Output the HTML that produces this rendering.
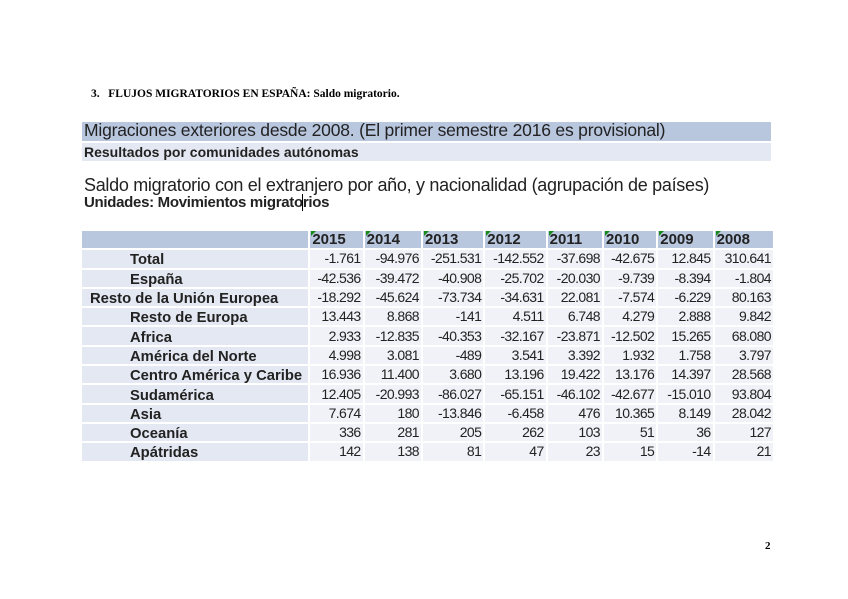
<!DOCTYPE html>
<html><head><meta charset="utf-8"><style>
body{margin:0;width:848px;height:599px;background:#fff;position:relative;overflow:hidden;font-family:"Liberation Sans",sans-serif;}
.a{position:absolute;}
table{position:absolute;left:80px;top:229px;border-collapse:separate;border-spacing:2px;font-size:14px;color:#222;table-layout:fixed;width:695px;}
td{height:17.3px;padding:0 2px;line-height:17px;overflow:hidden;white-space:nowrap;vertical-align:middle;}
td.n{text-align:right;background:#f0f2f7;letter-spacing:-0.6px;}
td.l{background:#e4e8f2;font-weight:bold;padding-left:48px;font-size:14.8px;line-height:17px;}
td.l span{position:relative;top:2px;}
tr.h td{background:#b8c6de;font-weight:bold;font-size:15px;text-align:left;position:relative;}
tr.h td.y:before{content:"";position:absolute;left:1px;top:0;border-top:5px solid #1a8a1a;border-right:5px solid transparent;}
</style></head><body>
<div class="a" style="left:91px;top:88px;font-family:'Liberation Serif',serif;font-weight:bold;font-size:11.5px;">3.&nbsp;&nbsp; FLUJOS MIGRATORIOS EN ESPAÑA: Saldo migratorio.</div>
<div class="a" style="left:82px;top:122px;width:689px;height:19px;background:#b8c6de;"></div>
<div class="a" style="left:84px;top:120px;font-size:17.5px;color:#222;letter-spacing:-0.2px;">Migraciones exteriores desde 2008. (El primer semestre 2016 es provisional)</div>
<div class="a" style="left:82px;top:143px;width:689px;height:18px;background:#e4e8f2;"></div>
<div class="a" style="left:84px;top:144px;font-size:14px;font-weight:bold;color:#222;">Resultados por comunidades autónomas</div>
<div class="a" style="left:84px;top:175px;font-size:18px;color:#222;letter-spacing:-0.3px;">Saldo migratorio con el extranjero por año, y nacionalidad (agrupación de países)</div>
<div class="a" style="left:84px;top:194px;font-size:15px;font-weight:bold;color:#222;letter-spacing:-0.3px;">Unidades: Movimientos migrato<span style="border-left:1px solid #000;margin-left:-1px"></span>rios</div>
<table>
<colgroup><col style="width:225px"><col style="width:52px"><col style="width:56px"><col style="width:60px"><col style="width:60px"><col style="width:54px"><col style="width:52px"><col style="width:54px"><col style="width:58px"></colgroup>
<tr class="h"><td></td><td class="y">2015</td><td class="y">2014</td><td class="y">2013</td><td class="y">2012</td><td class="y">2011</td><td class="y">2010</td><td class="y">2009</td><td class="y">2008</td></tr>
<tr><td class="l"><span>Total</span></td><td class="n">-1.761</td><td class="n">-94.976</td><td class="n">-251.531</td><td class="n">-142.552</td><td class="n">-37.698</td><td class="n">-42.675</td><td class="n">12.845</td><td class="n">310.641</td></tr>
<tr><td class="l"><span>España</span></td><td class="n">-42.536</td><td class="n">-39.472</td><td class="n">-40.908</td><td class="n">-25.702</td><td class="n">-20.030</td><td class="n">-9.739</td><td class="n">-8.394</td><td class="n">-1.804</td></tr>
<tr><td class="l" style="padding-left:8px"><span>Resto de la Unión Europea</span></td><td class="n">-18.292</td><td class="n">-45.624</td><td class="n">-73.734</td><td class="n">-34.631</td><td class="n">22.081</td><td class="n">-7.574</td><td class="n">-6.229</td><td class="n">80.163</td></tr>
<tr><td class="l"><span>Resto de Europa</span></td><td class="n">13.443</td><td class="n">8.868</td><td class="n">-141</td><td class="n">4.511</td><td class="n">6.748</td><td class="n">4.279</td><td class="n">2.888</td><td class="n">9.842</td></tr>
<tr><td class="l"><span>Africa</span></td><td class="n">2.933</td><td class="n">-12.835</td><td class="n">-40.353</td><td class="n">-32.167</td><td class="n">-23.871</td><td class="n">-12.502</td><td class="n">15.265</td><td class="n">68.080</td></tr>
<tr><td class="l"><span>América del Norte</span></td><td class="n">4.998</td><td class="n">3.081</td><td class="n">-489</td><td class="n">3.541</td><td class="n">3.392</td><td class="n">1.932</td><td class="n">1.758</td><td class="n">3.797</td></tr>
<tr><td class="l"><span>Centro América y Caribe</span></td><td class="n">16.936</td><td class="n">11.400</td><td class="n">3.680</td><td class="n">13.196</td><td class="n">19.422</td><td class="n">13.176</td><td class="n">14.397</td><td class="n">28.568</td></tr>
<tr><td class="l"><span>Sudamérica</span></td><td class="n">12.405</td><td class="n">-20.993</td><td class="n">-86.027</td><td class="n">-65.151</td><td class="n">-46.102</td><td class="n">-42.677</td><td class="n">-15.010</td><td class="n">93.804</td></tr>
<tr><td class="l"><span>Asia</span></td><td class="n">7.674</td><td class="n">180</td><td class="n">-13.846</td><td class="n">-6.458</td><td class="n">476</td><td class="n">10.365</td><td class="n">8.149</td><td class="n">28.042</td></tr>
<tr><td class="l"><span>Oceanía</span></td><td class="n">336</td><td class="n">281</td><td class="n">205</td><td class="n">262</td><td class="n">103</td><td class="n">51</td><td class="n">36</td><td class="n">127</td></tr>
<tr><td class="l"><span>Apátridas</span></td><td class="n">142</td><td class="n">138</td><td class="n">81</td><td class="n">47</td><td class="n">23</td><td class="n">15</td><td class="n">-14</td><td class="n">21</td></tr>
</table>
<div class="a" style="left:765px;top:540px;font-family:'Liberation Serif',serif;font-weight:bold;font-size:11px;">2</div>
</body></html>
